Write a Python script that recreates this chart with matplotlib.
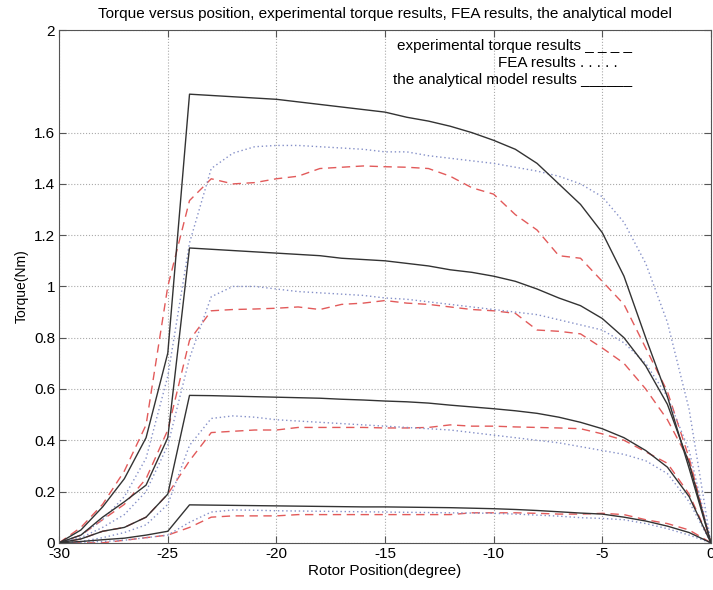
import numpy as np
import matplotlib
matplotlib.use("Agg")
import matplotlib.pyplot as plt

plt.rcParams["font.family"] = ["Liberation Sans", "DejaVu Sans"]
plt.rcParams["axes.unicode_minus"] = False

# rotor position (degree)
position = np.arange(-30, 1)

# analytical model results (black solid), four current levels
ana_1 = [0, 0.005, 0.012, 0.018, 0.03, 0.045, 0.148, 0.147, 0.146, 0.145, 0.144, 0.143, 0.142,
         0.141, 0.14, 0.14, 0.139, 0.138, 0.137, 0.135, 0.133, 0.13, 0.126, 0.121, 0.116, 0.112,
         0.10, 0.085, 0.065, 0.04, 0]
ana_2 = [0, 0.015, 0.045, 0.06, 0.10, 0.19, 0.575, 0.574, 0.572, 0.57, 0.568, 0.566, 0.564,
         0.56, 0.557, 0.553, 0.55, 0.545, 0.537, 0.53, 0.523, 0.515, 0.505, 0.49, 0.47, 0.445,
         0.41, 0.36, 0.295, 0.18, 0]
ana_3 = [0, 0.03, 0.10, 0.16, 0.225, 0.41, 1.15, 1.145, 1.14, 1.135, 1.13, 1.125, 1.12,
         1.11, 1.105, 1.10, 1.09, 1.08, 1.065, 1.055, 1.04, 1.02, 0.99, 0.955, 0.925, 0.875,
         0.80, 0.69, 0.54, 0.31, 0]
ana_4 = [0, 0.05, 0.14, 0.25, 0.41, 0.74, 1.75, 1.745, 1.74, 1.735, 1.73, 1.72, 1.71,
         1.70, 1.69, 1.68, 1.66, 1.645, 1.625, 1.60, 1.57, 1.535, 1.48, 1.40, 1.32, 1.21,
         1.04, 0.80, 0.57, 0.29, 0]

# FEA results (blue dotted)
fea_1 = [0, 0.002, 0.005, 0.01, 0.02, 0.03, 0.08, 0.12, 0.128, 0.127, 0.125, 0.124, 0.123,
         0.122, 0.121, 0.12, 0.119, 0.118, 0.117, 0.116, 0.115, 0.112, 0.108, 0.104, 0.098, 0.095,
         0.09, 0.075, 0.055, 0.03, 0]
fea_2 = [0, 0.005, 0.02, 0.04, 0.07, 0.15, 0.38, 0.485, 0.495, 0.49, 0.48, 0.475, 0.47,
         0.465, 0.46, 0.455, 0.45, 0.445, 0.44, 0.43, 0.42, 0.41, 0.40, 0.39, 0.375, 0.36,
         0.345, 0.32, 0.27, 0.16, 0]
fea_3 = [0, 0.02, 0.06, 0.11, 0.20, 0.38, 0.72, 0.96, 1.0, 1.0, 0.99, 0.98, 0.975,
         0.97, 0.965, 0.955, 0.95, 0.94, 0.93, 0.92, 0.91, 0.90, 0.89, 0.87, 0.85, 0.83,
         0.78, 0.70, 0.57, 0.36, 0]
fea_4 = [0, 0.03, 0.09, 0.18, 0.33, 0.65, 1.17, 1.46, 1.52, 1.545, 1.55, 1.55, 1.545,
         1.54, 1.535, 1.525, 1.525, 1.51, 1.50, 1.49, 1.48, 1.465, 1.45, 1.43, 1.40, 1.35,
         1.25, 1.09, 0.86, 0.52, 0]

# experimental torque results (red dashed)
exp_1 = [0, 0, 0, 0.01, 0.02, 0.03, 0.06, 0.10, 0.105, 0.105, 0.105, 0.11, 0.11,
         0.11, 0.11, 0.11, 0.11, 0.11, 0.11, 0.117, 0.117, 0.117, 0.115, 0.112, 0.112, 0.115,
         0.11, 0.09, 0.075, 0.05, 0]
exp_2 = [0, 0.015, 0.045, 0.06, 0.10, 0.19, 0.32, 0.43, 0.435, 0.44, 0.44, 0.45, 0.45,
         0.45, 0.45, 0.448, 0.448, 0.45, 0.46, 0.455, 0.455, 0.452, 0.45, 0.448, 0.445, 0.425,
         0.40, 0.355, 0.31, 0.19, 0]
exp_3 = [0, 0.03, 0.09, 0.15, 0.25, 0.44, 0.79, 0.905, 0.91, 0.912, 0.915, 0.92, 0.91,
         0.93, 0.935, 0.945, 0.935, 0.93, 0.92, 0.91, 0.905, 0.895, 0.83, 0.825, 0.815, 0.76,
         0.70, 0.60, 0.48, 0.32, 0]
exp_4 = [0, 0.06, 0.15, 0.28, 0.46, 1.0, 1.335, 1.42, 1.40, 1.405, 1.42, 1.43, 1.46,
         1.465, 1.47, 1.467, 1.465, 1.46, 1.43, 1.385, 1.36, 1.28, 1.22, 1.12, 1.11, 1.02,
         0.93, 0.76, 0.59, 0.33, 0]

fig = plt.figure(figsize=(7.13, 5.9), dpi=100)
ax = fig.add_axes([0.083, 0.080, 0.914, 0.869])

for y in (exp_1, exp_2, exp_3, exp_4):
    ax.plot(position, y, color="#e25a5a", linestyle=(0, (6, 4)), linewidth=1.0)
for y in (fea_1, fea_2, fea_3, fea_4):
    ax.plot(position, y, color="#8590c8", linestyle=(0, (1, 2)), linewidth=1.0)
for y in (ana_1, ana_2, ana_3, ana_4):
    ax.plot(position, y, color="#333333", linestyle="-", linewidth=1.0)

ax.set_xlim(-30, 0)
ax.set_ylim(0, 2)
ax.set_xticks([-30, -25, -20, -15, -10, -5, 0])
ax.set_yticks([0, 0.2, 0.4, 0.6, 0.8, 1, 1.2, 1.4, 1.6, 2])
ax.set_yticklabels(["0", "0.2", "0.4", "0.6", "0.8", "1", "1.2", "1.4", "1.6", "2"])
ax.grid(True, linestyle=":", color="#aaaaaa", linewidth=0.8)
ax.tick_params(direction="in", top=True, right=True, labelsize=11, length=5,
               color="#555555", pad=3)
for s in ax.spines.values():
    s.set_color("#555555")

ax.set_title("Torque versus position, experimental torque results, FEA results, the analytical model",
             fontsize=11, pad=9)
ax.set_xlabel("Rotor Position(degree)", fontsize=11, labelpad=2)
ax.set_ylabel("Torque(Nm)", fontsize=10, labelpad=4)

ax.text(0.879, 0.969, "experimental torque results _ _ _ _", transform=ax.transAxes,
        ha="right", va="center", fontsize=11)
ax.text(0.857, 0.936, "FEA results . . . . .", transform=ax.transAxes,
        ha="right", va="center", fontsize=11)
ax.text(0.879, 0.902, "the analytical model results ______", transform=ax.transAxes,
        ha="right", va="center", fontsize=11)

fig.savefig("out.png", dpi=100)
